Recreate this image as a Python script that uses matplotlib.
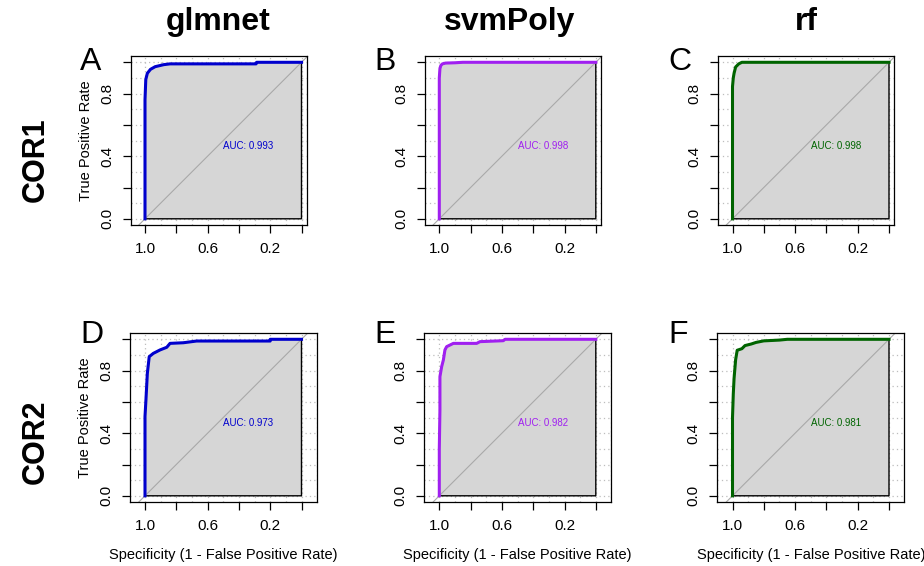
import matplotlib
matplotlib.use('Agg')
import matplotlib.pyplot as plt
import numpy as np

plt.rcParams['font.family'] = ['Liberation Sans', 'DejaVu Sans']

models = ['glmnet', 'svmPoly', 'rf']
datasets = ['COR1', 'COR2']
letters = [['A', 'B', 'C'], ['D', 'E', 'F']]
colors = ['#0000CD', '#A020F0', '#006400']
auc_labels = [['AUC: 0.993', 'AUC: 0.998', 'AUC: 0.998'],
              ['AUC: 0.973', 'AUC: 0.982', 'AUC: 0.981']]

# specificity / sensitivity points
spec_A = [1.0, 1.0, 0.995, 0.985, 0.965, 0.935, 0.88, 0.84, 0.29, 0.287, 0.0]
sens_A = [0.0, 0.76, 0.89, 0.93, 0.955, 0.972, 0.985, 0.99, 0.99, 1.0, 1.0]
spec_B = [1.0, 1.0, 0.996, 0.99, 0.98, 0.96, 0.9, 0.85, 0.0]
sens_B = [0.0, 0.9, 0.96, 0.98, 0.99, 0.995, 0.997, 1.0, 1.0]
spec_C = [1.0, 1.0, 0.995, 0.99, 0.98, 0.96, 0.94, 0.0]
sens_C = [0.0, 0.845, 0.9, 0.93, 0.97, 0.99, 1.0, 1.0]
spec_D = [1.0, 1.0, 0.994, 0.985, 0.973, 0.947, 0.904, 0.861, 0.84, 0.755, 0.67, 0.2, 0.2, 0.0]
sens_D = [0.0, 0.507, 0.613, 0.783, 0.889, 0.91, 0.932, 0.949, 0.974, 0.978, 0.989, 0.989, 1.0, 1.0]
spec_E = [1.0, 1.0, 0.996, 0.996, 0.985, 0.974, 0.964, 0.953, 0.91, 0.761, 0.74, 0.591, 0.58, 0.0]
sens_E = [0.0, 0.3, 0.549, 0.761, 0.825, 0.868, 0.932, 0.953, 0.974, 0.974, 0.985, 0.991, 1.0, 1.0]
spec_F = [1.0, 1.0, 0.995, 0.99, 0.98, 0.97, 0.94, 0.92, 0.88, 0.85, 0.8, 0.7, 0.65, 0.0]
sens_F = [0.0, 0.5, 0.65, 0.75, 0.87, 0.93, 0.94, 0.96, 0.97, 0.98, 0.99, 0.995, 1.0, 1.0]
curves = [[(spec_A, sens_A), (spec_B, sens_B), (spec_C, sens_C)],
          [(spec_D, sens_D), (spec_E, sens_E), (spec_F, sens_F)]]

W, H = 924, 566
S = 156.5  # pixels per unit
col_x1 = [145, 439.3, 732.5]   # pixel x of specificity = 1
row_y1 = [62.3, 339.3]         # pixel y of sensitivity = 1
row_xlim = [(1.092, -0.032), (1.096, -0.098)]
ylim = (-0.04, 1.04)

fig = plt.figure(figsize=(W / 100, H / 100), dpi=100)

for r in range(2):
    for c in range(3):
        xl, xr = row_xlim[r]
        left = col_x1[c] - (xl - 1) * S
        width = (xl - xr) * S
        top = row_y1[r] - (ylim[1] - 1) * S
        height = (ylim[1] - ylim[0]) * S
        ax = fig.add_axes([left / W, 1 - (top + height) / H, width / W, height / H])
        ax.set_xlim(xl, xr)
        ax.set_ylim(*ylim)

        # dotted grid under the AUC polygon
        for g in np.arange(-0.1, 1.11, 0.1):
            ax.axhline(g, color='#BDBDBD', lw=0.9, ls=(0, (1, 2.5)), zorder=0)
            ax.axvline(g, color='#BDBDBD', lw=0.9, ls=(0, (1, 2.5)), zorder=0)

        sx, sy = curves[r][c]
        ax.fill(list(sx) + [0.0], list(sy) + [0.0], facecolor='#D6D6D6',
                edgecolor='black', lw=1.0, zorder=1)
        ax.axline((1, 0), (0, 1), color='#A9A9A9', lw=0.8, zorder=2)

        ax.plot(sx, sy, color=colors[c], lw=2.2, zorder=3, solid_joinstyle='round')
        ax.text(0.5, 0.5, auc_labels[r][c], color=colors[c], fontsize=7,
                ha='left', va='top', zorder=4)

        ticks = [0.0, 0.2, 0.4, 0.6, 0.8, 1.0]
        ax.set_xticks(ticks)
        ax.set_xticklabels(['' if t in (0.0, 0.4, 0.8) else f'{t:.1f}' for t in ticks])
        ax.set_yticks(ticks)
        ax.set_yticklabels(['' if t in (0.2, 0.6, 1.0) else f'{t:.1f}' for t in ticks],
                           rotation=90, va='center')
        ax.tick_params(direction='out', length=6, width=0.9, labelsize=11, pad=6,
                       colors='black')
        for sp in ax.spines.values():
            sp.set_linewidth(0.9)

        if c == 0:
            ax.set_ylabel('True Positive Rate', fontsize=10.5, labelpad=5)
        if r == 1:
            ax.set_xlabel('Specificity (1 - False Positive Rate)', fontsize=10.5, labelpad=11)

        lx = 80 + c * 294
        ly = 70 if r == 0 else 343
        fig.text(lx / W, 1 - ly / H, letters[r][c], fontsize=23,
                 ha='left', va='baseline')

title_x = [218, 510, 806]
for c, m in enumerate(models):
    fig.text(title_x[c] / W, 1 - 22 / H, m, fontsize=23, fontweight='bold',
             ha='center', va='center')

row_y = [159.5, 442]
for r, d in enumerate(datasets):
    fig.text(36 / W, 1 - row_y[r] / H, d, fontsize=22, fontweight='bold',
             rotation=90, ha='center', va='center')

fig.savefig('out.png', dpi=100, facecolor='white')
